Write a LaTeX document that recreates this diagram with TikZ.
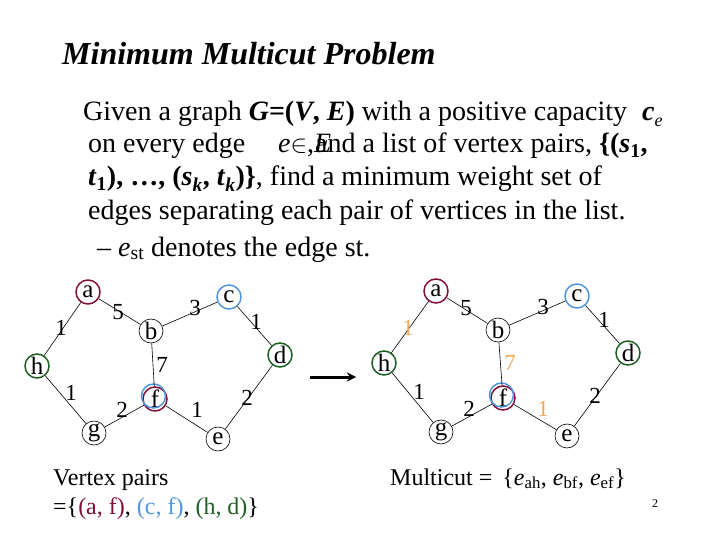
\documentclass[tikz,border=0pt]{standalone}
\usepackage{fontspec}
\setmainfont{Liberation Serif}
\usepackage{tikz}
\usetikzlibrary{arrows}
\definecolor{mcred}{RGB}{128,16,56}
\definecolor{mcblue}{RGB}{80,150,220}
\definecolor{mcgreen}{RGB}{30,95,35}
\definecolor{mcorange}{RGB}{240,170,90}
\tikzstyle{vtx} = [circle,draw,line width=0.6pt,minimum size=24pt,inner sep=0pt,font=\fontsize{25}{25}\selectfont]
\tikzstyle{ring} = [line width=1.5pt]
\tikzstyle{wt} = [inner sep=0pt,font=\fontsize{23}{23}\selectfont]
\tikzstyle{lnk} = [line width=0.6pt]
\tikzstyle{txtline} = [anchor=base west,inner sep=0pt,font=\fontsize{28}{34}\selectfont]
\tikzstyle{arrow} = [line width=3pt,->,>=stealth]

\begin{document}
\begin{tikzpicture}[x=1pt,y=-1pt]
\useasboundingbox (0,0) rectangle (720,540);

% Title
\node[anchor=base west,inner sep=0pt,font=\fontsize{32}{38}\selectfont\bfseries\itshape] (title) at (62,65) {Minimum Multicut Problem};

% Text
\node[txtline] (l1) at (83,121) {Given a graph \textbf{\textit{G}=(\textit{V}, \textit{E})} with a positive capacity};
\node[txtline] (ce) at (642,121) {\textbf{\textit{c}}\raisebox{-6pt}{\fontsize{18}{18}\selectfont\textit{e}}};
\node[txtline] (l2) at (88,153) {on every edge};
\node[txtline] (ein) at (278,153) {\textit{e}$\in$,\textit{E}};
\node[txtline] (l2b) at (315,153) {and a list of vertex pairs, \textbf{\{(\textit{s}\textsubscript{1},}};
\node[txtline] (l3) at (88,186) {\textbf{\textit{t}\textsubscript{1}), …, (\textit{s}\textsubscript{\textit{k}}, \textit{t}\textsubscript{\textit{k}})\}}, find a minimum weight set of};
\node[txtline] (l4) at (88,219) {edges separating each pair of vertices in the list.};
\node[txtline] (l5) at (97,256) {– \textit{e}\textsubscript{st} denotes the edge st.};

% Left graph
\node[vtx,ring,draw=mcred] (la) at (88,292) {a};
\node[vtx] (lb) at (151,331) {b};
\node[vtx,ring,draw=mcblue] (lc) at (229,297) {c};
\node[vtx,ring,draw=mcgreen] (ld) at (280,355) {d};
\node[vtx,ring,draw=mcgreen] (lh) at (37,366) {h};
\node[vtx,ring,draw=mcred] (lf) at (155,399) {f};
\draw[ring,draw=mcblue] ([xshift=-1.5pt,yshift=3pt]lf.center) circle (12);
\node[vtx] (lg) at (94,433) {g};
\node[vtx] (le) at (218,439) {e};

\draw[lnk] (la) -- (lh);
\draw[lnk] (la) -- (lb);
\draw[lnk] (lb) -- (lc);
\draw[lnk] (lc) -- (ld);
\draw[lnk] (lb) -- (lf);
\draw[lnk] (lh) -- (lg);
\draw[lnk] (lg) -- (lf);
\draw[lnk] (lf) -- (le);
\draw[lnk] (le) -- (ld);

\node[wt] (lwah) at (61,328) {1};
\node[wt] (lwab) at (118,312) {5};
\node[wt] (lwbc) at (195,308) {3};
\node[wt] (lwcd) at (256,322) {1};
\node[wt] (lwbf) at (162,365) {7};
\node[wt] (lwhg) at (71,393) {1};
\node[wt] (lwgf) at (122,410) {2};
\node[wt] (lwfe) at (197,410) {1};
\node[wt] (lwed) at (247,398) {2};

% Arrow
\coordinate (arrs) at (310,377);
\coordinate (arre) at (356,377);
\draw[arrow] (arrs) -- (arre);

% Right graph
\node[vtx,ring,draw=mcred] (ra) at (436,291) {a};
\node[vtx] (rb) at (498,330) {b};
\node[vtx,ring,draw=mcblue] (rc) at (577,296) {c};
\node[vtx,ring,draw=mcgreen] (rd) at (628,353) {d};
\node[vtx,ring,draw=mcgreen] (rh) at (384,363) {h};
\node[vtx,ring,draw=mcred] (rf) at (503,398) {f};
\draw[ring,draw=mcblue] ([xshift=-1.5pt,yshift=3pt]rf.center) circle (12);
\node[vtx] (rg) at (441,432) {g};
\node[vtx] (re) at (567,436) {e};

\draw[lnk] (ra) -- (rh);
\draw[lnk] (ra) -- (rb);
\draw[lnk] (rb) -- (rc);
\draw[lnk] (rc) -- (rd);
\draw[lnk] (rb) -- (rf);
\draw[lnk] (rh) -- (rg);
\draw[lnk] (rg) -- (rf);
\draw[lnk] (rf) -- (re);
\draw[lnk] (re) -- (rd);

\node[wt,text=mcorange] (rwah) at (408,328) {1};
\node[wt] (rwab) at (466,308) {5};
\node[wt] (rwbc) at (543,307) {3};
\node[wt] (rwcd) at (604,320) {1};
\node[wt,text=mcorange] (rwbf) at (510,363) {7};
\node[wt] (rwhg) at (419,392) {1};
\node[wt] (rwgf) at (469,409) {2};
\node[wt,text=mcorange] (rwfe) at (543,409) {1};
\node[wt] (rwed) at (595,396) {2};

% Bottom text
\node[anchor=base west,inner sep=0pt,font=\fontsize{24}{28}\selectfont] (vp) at (53,485) {Vertex pairs};
\node[anchor=base west,inner sep=0pt,font=\fontsize{24}{28}\selectfont] (vpl) at (53,514) {=\{\textcolor{mcred}{(a, f)}, \textcolor{mcblue}{(c, f)}, \textcolor{mcgreen}{(h, d)}\}};
\node[anchor=base west,inner sep=0pt,font=\fontsize{24}{28}\selectfont] (mc) at (390,485) {Multicut = \,\{\textit{e}\textsubscript{ah}, \textit{e}\textsubscript{bf}, \textit{e}\textsubscript{ef}\}};
\node[anchor=base,inner sep=0pt,font=\fontsize{12}{14}\selectfont] (pg) at (655,507) {2};
\end{tikzpicture}
\end{document}
